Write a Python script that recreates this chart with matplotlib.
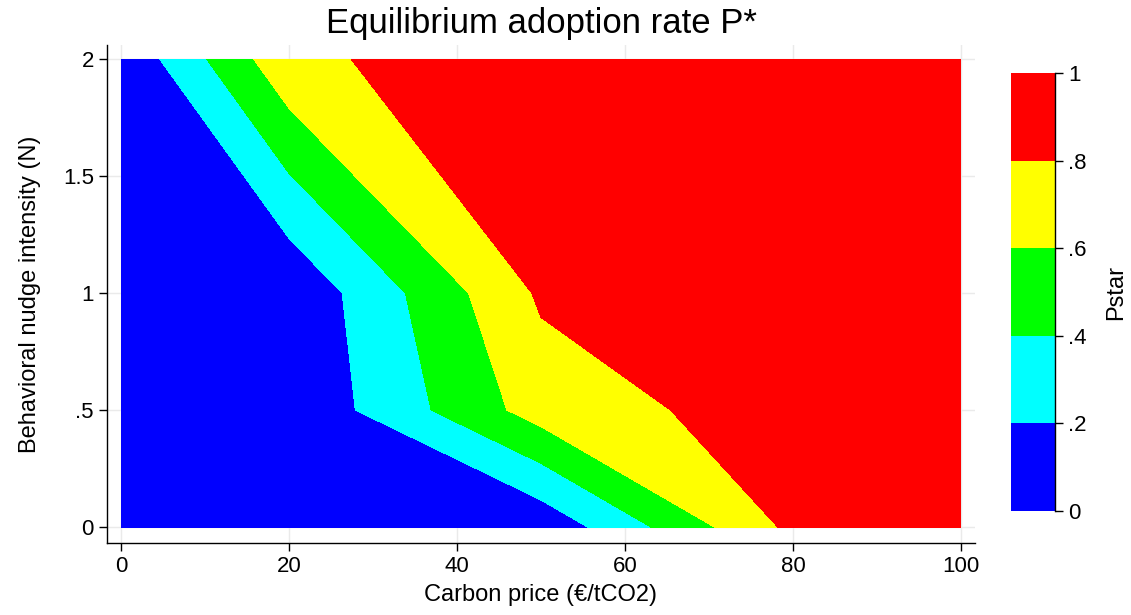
import numpy as np
import matplotlib
matplotlib.use("Agg")
import matplotlib.pyplot as plt
from matplotlib.colors import ListedColormap, BoundaryNorm

plt.rcParams['font.family'] = ['Liberation Sans', 'DejaVu Sans']

# Data grid (carbon price x nudge intensity) and equilibrium adoption P*
carbon_price = [0, 20, 50, 80, 100]
nudge = [0, 0.5, 1, 2]
pstar_n0 = [0.001, 0.008, 0.053, 0.848, 0.95]
pstar_n05 = [0.003, 0.025, 0.690, 0.904, 0.98]
pstar_n1 = [0.006, 0.032, 0.829, 0.960, 0.99]
pstar_n2 = [0.036, 0.751, 0.950, 0.990, 0.999]

levels = [0, 0.2, 0.4, 0.6, 0.8, 1.0]
level_labels = ['0', '.2', '.4', '.6', '.8', '1']
band_colors = ['#0000ff', '#00ffff', '#00ff00', '#ffff00', '#ff0000']
xticks = [0, 20, 40, 60, 80, 100]
yticks = [0, 0.5, 1, 1.5, 2]
ytick_labels = ['0', '.5', '1', '1.5', '2']

Z = np.array([pstar_n0, pstar_n05, pstar_n1, pstar_n2])
X, Y = np.meshgrid(carbon_price, nudge)

fig = plt.figure(figsize=(11.31, 6.15), dpi=100)
ax = fig.add_axes([107/1131, 1-543/615, (975-107)/1131, (543-45)/615])

cmap = ListedColormap(band_colors)
norm = BoundaryNorm(levels, cmap.N)
cf = ax.contourf(X, Y, Z, levels=levels, cmap=cmap, norm=norm,
                 antialiased=False, algorithm='serial')

ax.set_xlim(-1.667, 101.667)
ax.set_ylim(-0.068, 2.06)
ax.set_xticks(xticks)
ax.set_yticks(yticks)
ax.set_yticklabels(ytick_labels)
ax.set_axisbelow(True)
ax.grid(True, color='#eaeaea', linewidth=1)
for s in ['top', 'right']:
    ax.spines[s].set_visible(False)
for s in ['left', 'bottom']:
    ax.spines[s].set_linewidth(1.0)
ax.tick_params(direction='out', length=6, width=1, labelsize=16, colors='black')
ax.set_xlabel('Carbon price (€/tCO2)', fontsize=17, labelpad=5)
ax.set_ylabel('Behavioral nudge intensity (N)', fontsize=17, labelpad=16)
ax.set_title('Equilibrium adoption rate P*', fontsize=25, pad=9)

cax = fig.add_axes([1011/1131, 1-511/615, 44/1131, 438/615])
cb = fig.colorbar(cf, cax=cax, ticks=levels)
cb.outline.set_visible(False)
cb.ax.set_yticklabels(level_labels)
cb.ax.tick_params(direction='out', length=6, width=1, labelsize=16)
cax.plot([1, 1], [0, 1], transform=cax.transAxes, color='black', lw=1, clip_on=False)
cb.set_label('Pstar', fontsize=17, labelpad=13)

fig.savefig('out.png', dpi=100)
